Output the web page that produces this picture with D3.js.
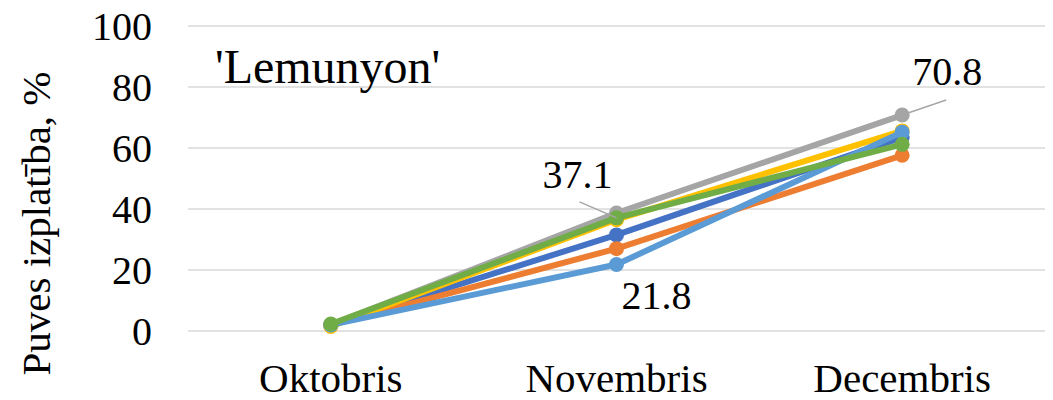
<!doctype html>
<html><head><meta charset="utf-8"><script src="https://d3js.org/d3.v7.min.js"></script></head>
<body style="margin:0">
<script>
// categories and series values
var months = ["Oktobris", "Novembris", "Decembris"];
var seriesColors = ["#4472c4", "#ed7d31", "#a5a5a5", "#ffc000", "#5b9bd5", "#70ad47"];
var s1 = [2.0, 31.5, 63.5];
var s2 = [2.0, 27.0, 57.6];
var s3 = [2.0, 38.7, 70.8];
var s4 = [1.5, 36.5, 65.6];
var s5 = [2.0, 21.8, 65.2];
var s6 = [2.3, 37.1, 61.2];
var yTicks = [0, 20, 40, 60, 80, 100];
var title = "'Lemunyon'";
var yTitle = "Puves izplatība, %";
// data labels: series index, month index
var labels = [
  {s: 5, m: 1, text: "37.1"},
  {s: 2, m: 2, text: "70.8"},
  {s: 4, m: 1, text: "21.8"}
];

var values = [s1, s2, s3, s4, s5, s6];

var W = 1053, H = 400;
var margin = {top: 26, right: 8, bottom: 69, left: 188};
var width = W - margin.left - margin.right,
    height = H - margin.top - margin.bottom;

var svg = d3.select("body").append("svg")
    .attr("width", W)
    .attr("height", H);
var g = svg.append("g")
    .attr("transform", "translate(" + margin.left + "," + margin.top + ")");

var x = d3.scalePoint().domain(months).range([0, width]).padding(0.5);
var y = d3.scaleLinear().domain([0, 100]).range([height, 0]);

function addText(sel, size) {
  return sel.append("text")
      .style("font-family", function() { return "'Liberation Serif'"; })
      .style("font-size", size + "px");
}

// gridlines
g.selectAll(".grid").data(yTicks).enter().append("line")
    .attr("x1", 0).attr("x2", width)
    .attr("y1", function(d) { return y(d); })
    .attr("y2", function(d) { return y(d); })
    .attr("stroke", "#d9d9d9")
    .attr("stroke-width", 1.5);

// y tick labels
yTicks.forEach(function(d) {
  addText(g, 40)
      .attr("x", -36)
      .attr("y", y(d) + 14)
      .attr("text-anchor", "end")
      .text(d);
});

// x labels
months.forEach(function(d) {
  addText(g, 41)
      .attr("x", x(d))
      .attr("y", height + 61)
      .attr("text-anchor", "middle")
      .text(d);
});

// y axis title
addText(svg, 41)
    .attr("transform", "translate(50," + (margin.top + height / 2 + 45) + ") rotate(-90)")
    .attr("text-anchor", "middle")
    .text(yTitle);

// chart title
addText(g, 48)
    .attr("x", 27)
    .attr("y", 57)
    .text(title);

var line = d3.line()
    .x(function(d, i) { return x(months[i]); })
    .y(function(d) { return y(d); });

values.forEach(function(vals, si) {
  var sg = g.append("g");
  sg.append("path")
      .datum(vals)
      .attr("fill", "none")
      .attr("stroke-width", 6)
      .attr("stroke-linejoin", "round")
      .attr("stroke", seriesColors[si])
      .attr("d", line);
  sg.selectAll("circle").data(vals).enter().append("circle")
      .attr("cx", function(d, i) { return x(months[i]); })
      .attr("cy", function(d) { return y(d); })
      .attr("r", 7.5)
      .attr("fill", seriesColors[si]);
});

// data labels with leader lines
var labelOffsets = [
  {dx: -39, dy: -30, lx: -37, ly: -16},
  {dx: 45, dy: -30, lx: 44, ly: -15},
  {dx: 40, dy: 44, lx: null, ly: null}
];
labels.forEach(function(l, k) {
  var px = x(months[l.m]), py = y(values[l.s][l.m]);
  var o = labelOffsets[k];
  if (o.lx !== null) {
    g.append("line")
        .attr("x1", px).attr("y1", py)
        .attr("x2", px + o.lx).attr("y2", py + o.ly)
        .attr("stroke", "#a6a6a6")
        .attr("stroke-width", 1.5);
  }
  addText(g, 40)
      .attr("x", px + o.dx)
      .attr("y", py + o.dy)
      .attr("text-anchor", "middle")
      .text(l.text);
});
</script>
</body>
</html>
